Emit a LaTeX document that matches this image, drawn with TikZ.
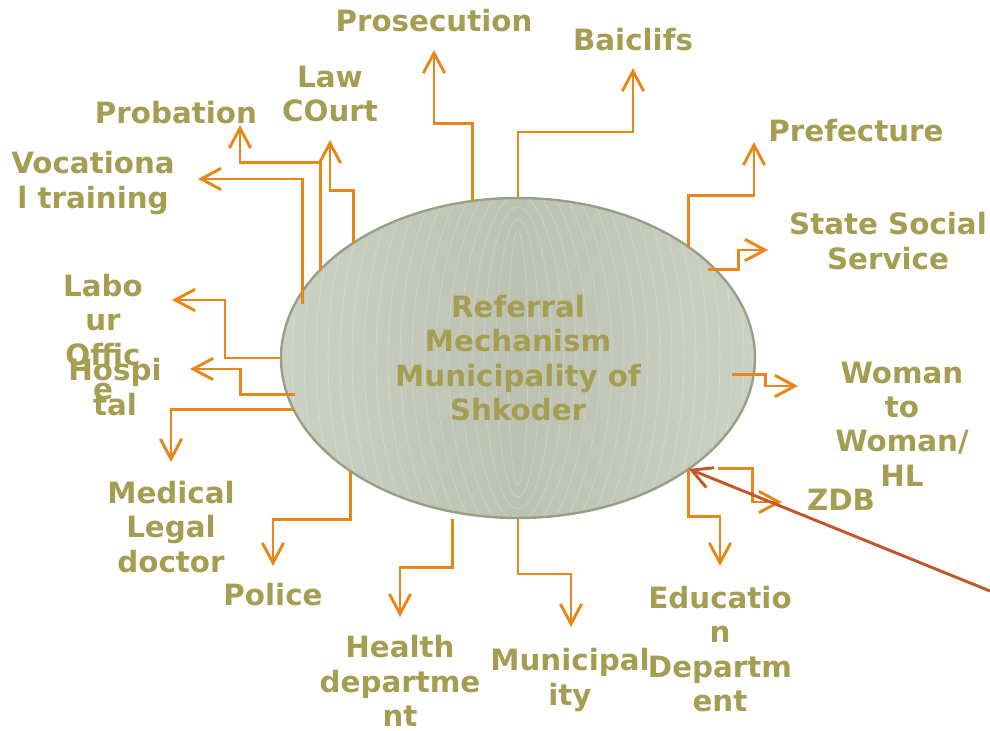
\documentclass[tikz,border=0pt]{standalone}
\usepackage{fontspec}
\setmainfont{DejaVu Sans}
\usetikzlibrary{arrows.meta,shapes.geometric,calc}

\definecolor{refText}{HTML}{A59D52}
\definecolor{refOrange}{HTML}{E8861A}
\definecolor{refBrown}{HTML}{C0582A}
\definecolor{refPale}{HTML}{CCD1C4}
\definecolor{refDeep}{HTML}{BCC1B1}
\definecolor{refRim}{HTML}{95A085}

\begin{document}
\begin{tikzpicture}[x=0.75pt,y=-0.75pt,
    reflabel/.style={text=refText,font=\bfseries\fontsize{22}{25.8}\selectfont,align=center,inner sep=0pt},
    refmech/.style={ellipse,minimum width=355.5pt,minimum height=240pt,inner sep=0pt,outer sep=0pt,
      draw=refRim,line width=1.8pt,left color=refPale,right color=refPale,middle color=refDeep,
      path picture={\foreach \k in {0,...,19}
        \draw[white,opacity=0.3,line width=0.4pt] (path picture bounding box.center) ellipse ({10+12*\k} and {127+12*\k});}},
    refline/.style={draw=refOrange,line width=2.2pt,-{Straight Barb[length=15pt,width=16pt].}},
    pointer/.style={draw=refBrown,line width=2.2pt,-{Straight Barb[length=15pt,width=16pt].}}]
  \useasboundingbox (0,0) rectangle (990,731);

  % centre
  \node[reflabel,refmech] (refmech) at (518,358) {Referral\\Mechanism\\Municipality of\\Shkoder};

  % agencies
  \node[reflabel] (prosecution) at (434,21) {Prosecution};
  \node[reflabel] (baiclifs) at (633,40) {Baiclifs};
  \node[reflabel] (lawcourt) at (330,94) {Law\\COurt};
  \node[reflabel] (probation) at (176,113) {Probation};
  \node[reflabel] (vocational) at (93,183) {Vocationa\\l training};
  \node[reflabel] (labour) at (103,337) {Labo\\ur\\Offic\\e};
  \node[reflabel] (hospital) at (115,387) {Hospi\\tal};
  \node[reflabel] (medical) at (171,527) {Medical\\Legal\\doctor};
  \node[reflabel] (police) at (273,595) {Police};
  \node[reflabel] (health) at (400,681) {Health\\departme\\nt};
  \node[reflabel] (municipality) at (570,680) {Municipal\\ity};
  \node[reflabel] (education) at (720,649) {Educatio\\n\\Departm\\ent};
  \node[reflabel] (zdb) at (841,500) {ZDB};
  \node[reflabel] (woman) at (902,424) {Woman\\to\\Woman/\\HL};
  \node[reflabel] (statesocial) at (888,241) {State Social\\Service};
  \node[reflabel] (prefecture) at (856,131) {Prefecture};

  % arrow tips
  \coordinate (tProsec) at (434,50);
  \coordinate (tBaic) at (633,68);
  \coordinate (tLaw) at (330,140);
  \coordinate (tProb) at (240,125);
  \coordinate (tVoc) at (198,179);
  \coordinate (tLab) at (172,300);
  \coordinate (tHosp) at (190,369);
  \coordinate (tMed) at (171,462);
  \coordinate (tPol) at (273,566);
  \coordinate (tHealth) at (400,617);
  \coordinate (tMuni) at (571,627);
  \coordinate (tEdu) at (720,566);
  \coordinate (tZdb) at (782,502);
  \coordinate (tWoman) at (798,386);
  \coordinate (tState) at (768,250);
  \coordinate (tPref) at (754,142);
  \coordinate (zdbpointer) at (990,591);

  % referrals
  \draw[refline] (refmech.106.7) -- ++(0,-77) -| (tProsec);
  \draw[refline] (refmech.north) -- ++(0,-66) -| (tBaic);
  \draw[refline] (refmech.145.8) -- ++(0,-52) -| (tLaw);
  \draw[refline] (refmech.156.8) -- ++(0,-107) -| (tProb);
  \draw[refline] ($(refmech.163.9)+(0,12)$) |- (tVoc);
  \draw[refline] (refmech.west) -- ++(-56,0) |- (tLab);
  \draw[refline] ($(refmech.189.6)+(8,0)$) -- ++(-55,0) |- (tHosp);
  \draw[refline] (refmech.193.3) -| (tMed);
  \draw[refline] (refmech.214.2) -- ++(0,48) -| (tPol);
  \draw[refline] ($(refmech.247.8)+(0,7)$) -- ++(0,49) -| (tHealth);
  \draw[refline] (refmech.south) -- ++(0,56) -| (tMuni);
  \draw[refline] (refmech.-33.9) -- ++(0,48) -| (tEdu);
  \draw[refline] ($(refmech.-33.9)+(29,0)$) -- ++(35,0) |- (tZdb);
  \draw[refline] ($(refmech.-4.6)+(-22,0)$) -- ++(34,0) |- (tWoman);
  \draw[refline] ($(refmech.24.3)+(-8,0)$) -- ++(31,0) |- (tState);
  \draw[refline] (refmech.33.9) -- ++(0,-52) -| (tPref);

  \draw[pointer] (zdbpointer) -- (refmech.-33.9);
\end{tikzpicture}
\end{document}
